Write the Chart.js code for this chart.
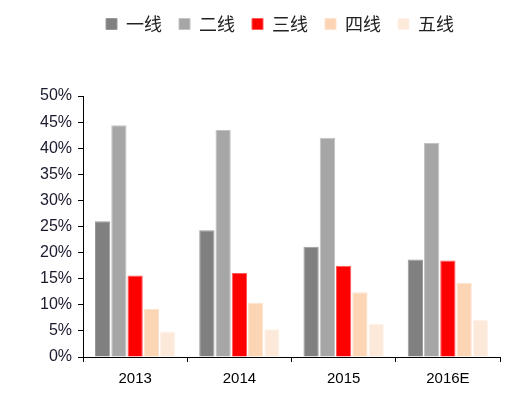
<!DOCTYPE html>
<html>
<head>
<meta charset="utf-8">
<script src="https://cdn.jsdelivr.net/npm/chart.js@4/dist/chart.umd.min.js"></script>
<style>
  html, body { margin: 0; padding: 0; background: #fff; }
  #wrap { width: 528px; height: 396px; }
</style>
</head>
<body>
<div id="wrap"><canvas id="mycanvas" width="528" height="396"></canvas></div>
<script>
var years = ["2013", "2014", "2015", "2016E"];
var tier1 = [26.0, 24.3, 21.1, 18.7];
var tier2 = [44.4, 43.5, 42.0, 41.0];
var tier3 = [15.6, 16.1, 17.5, 18.5];
var tier4 = [9.2, 10.4, 12.4, 14.2];
var tier5 = [4.9, 5.3, 6.3, 7.1];
var seriesNames = ["一线", "二线", "三线", "四线", "五线"];

var fills = ["#808080", "#a6a6a6", "#ff0000", "#fcd5b4", "#fde9d9"];
var edges = ["#9a9a9a", "#c4c4c4", "#ff5a5a", "#fde2cc", "#fef2ea"];

function makeSet(i, vals) {
  return {
    label: seriesNames[i],
    data: vals,
    backgroundColor: fills[i],
    borderColor: edges[i],
    borderWidth: 1,
    categoryPercentage: 0.78,
    barPercentage: 0.94
  };
}

var chartdata = {
  labels: years,
  datasets: [
    makeSet(0, tier1),
    makeSet(1, tier2),
    makeSet(2, tier3),
    makeSet(3, tier4),
    makeSet(4, tier5)
  ]
};

// push the plot area down below the legend, and nudge the legend itself
var legendGap = {
  id: 'legendGap',
  beforeInit: function(chart) {
    var fit = chart.legend.fit;
    chart.legend.fit = function() {
      fit.bind(chart.legend)();
      this.height += 49;
    };
  },
  afterLayout: function(chart) {
    var lg = chart.legend;
    lg.top -= 4; lg.bottom -= 4;
    lg.left += 13; lg.right += 13;
  }
};

var ctx = document.getElementById("mycanvas");
var myChart = new Chart(ctx, {
  type: 'bar',
  data: chartdata,
  plugins: [legendGap],
  options: {
    responsive: false,
    animation: false,
    layout: { padding: { left: 34, right: 28, top: 2, bottom: 0 } },
    plugins: {
      tooltip: { enabled: false },
      legend: {
        position: 'top',
        labels: {
          boxWidth: 11,
          boxHeight: 11,
          padding: 17,
          color: '#222',
          font: { family: "'Noto Sans CJK SC', sans-serif", size: 18 }
        }
      }
    },
    scales: {
      x: {
        grid: { display: true, drawOnChartArea: false, color: '#000', tickLength: 5, offset: true },
        border: { display: true, color: '#000', width: 1 },
        ticks: { color: '#000', font: { family: "'Liberation Sans', Arial", size: 15 }, padding: 8 }
      },
      y: {
        min: 0,
        max: 50,
        grid: { display: true, drawOnChartArea: false, color: '#000', tickLength: 5 },
        border: { display: true, color: '#000', width: 1 },
        ticks: {
          stepSize: 5,
          color: '#1a1a2e',
          padding: 6,
          font: { family: "'Liberation Sans', Arial", size: 16 },
          callback: function(v) { return v + '%'; }
        }
      }
    }
  }
});
</script>
</body>
</html>
